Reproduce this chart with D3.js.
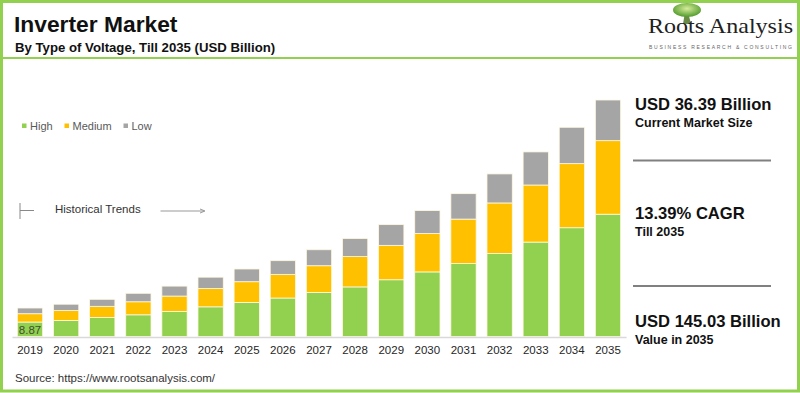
<!DOCTYPE html>
<meta charset="utf-8">
<html>
  <head>
    <title>Inverter Market</title>
    <style>
      body { margin: 0; background: #fff; }
      svg text { font-family: "Liberation Sans", Arial, sans-serif; }
    </style>
  </head>
  <body>
    <div id="chart"></div>
  </body>

<script src="https://d3js.org/d3.v7.min.js"></script>
<script>
// data (USD Billion)
var years  = ["2019","2020","2021","2022","2023","2024","2025","2026","2027","2028","2029","2030","2031","2032","2033","2034","2035"]
var high   = [8.87, 9.8, 11.7, 13.3, 15.4, 18.19, 20.9, 23.6, 27.0, 30.4, 34.8, 39.6, 44.7, 50.9, 57.9, 66.7, 75.0]
var medium = [5.1, 6.1, 6.8, 8.0, 9.4, 11.2, 12.7, 14.5, 16.4, 18.6, 21.1, 23.5, 27.3, 31.0, 35.0, 39.3, 45.1]
var low    = [3.5, 3.9, 4.3, 5.2, 6.1, 7.0, 7.8, 8.4, 9.8, 11.1, 12.7, 14.1, 15.6, 17.8, 20.3, 22.3, 24.93]
var seriesNames = ["High", "Medium", "Low"]
var firstLabel = "8.87"
var stats = [
  ["USD 36.39 Billion", "Current Market Size"],
  ["13.39% CAGR", "Till 2035"],
  ["USD 145.03 Billion", "Value in 2035"]
]

var W = 800, H = 393
var green = "#92D050"
var color = d3.scaleOrdinal().domain(seriesNames).range(["#92D050", "#FFC000", "#A5A5A5"])

var svg = d3.select("#chart").append("svg")
  .attr("width", W).attr("height", H)

// frame + title separator
svg.append("rect").attr("x", 1.5).attr("y", 1.5).attr("width", W - 3).attr("height", H - 3.5)
  .attr("fill", "#fff").attr("stroke", green).attr("stroke-width", 3)
svg.append("line").attr("x1", 0).attr("x2", W).attr("y1", 58).attr("y2", 58)
  .attr("stroke", green).attr("stroke-width", 2)

// titles
svg.append("text").attr("x", 14).attr("y", 31.5)
  .style("font-size", "22.8px").style("font-weight", "bold").attr("fill", "#111")
  .text("Inverter Market")
svg.append("text").attr("x", 15).attr("y", 52)
  .style("font-size", "13.2px").style("font-weight", "bold").attr("fill", "#111")
  .text("By Type of Voltage, Till 2035 (USD Billion)")

// logo
var logo = svg.append("g")
var grad = svg.append("defs").append("radialGradient").attr("id", "leaf")
  .attr("cx", "50%").attr("cy", "40%").attr("r", "60%")
grad.append("stop").attr("offset", "0%").attr("stop-color", "#d6ec9a")
grad.append("stop").attr("offset", "100%").attr("stop-color", "#4f9a2a")
logo.append("path").attr("d", "M685,12 L683,24 L691,24 L688,12 Z").attr("fill", "#6b8a45")
logo.append("ellipse").attr("cx", 687).attr("cy", 10).attr("rx", 14).attr("ry", 7).attr("fill", "url(#leaf)")
logo.append("text").attr("x", 648).attr("y", 33)
  .style("font-family", "'Liberation Serif', 'Times New Roman', serif").style("font-size", "22px")
  .attr("textLength", 145).attr("lengthAdjust", "spacingAndGlyphs")
  .attr("fill", "#222").text("Roots Analysis")
logo.append("text").attr("x", 649).attr("y", 49)
  .style("font-size", "5px").attr("textLength", 143).attr("lengthAdjust", "spacing")
  .attr("fill", "#666").text("BUSINESS RESEARCH & CONSULTING")

// scales
var x = d3.scaleBand().domain(years).range([11.94, 626.06]).paddingInner(0.3).paddingOuter(0.15)
var y = d3.scaleLinear().domain([0, 145.03]).range([336.5, 100])

var table = years.map(function(yr, i) {
  return { year: yr, High: high[i], Medium: medium[i], Low: low[i] }
})
var stacked = d3.stack().keys(seriesNames)(table)

svg.append("g").selectAll("g")
  .data(stacked)
  .enter().append("g")
    .attr("fill", function(d) { return color(d.key) })
  .selectAll("rect")
  .data(function(d) { return d })
  .enter().append("rect")
    .attr("x", function(d) { return x(d.data.year) })
    .attr("width", x.bandwidth())
    .attr("y", function(d) { return y(d[1]) })
    .attr("height", function(d) { return y(d[0]) - y(d[1]) })
    .attr("stroke", "#fff8e0").attr("stroke-width", 0.8)

// baseline + year labels
var xAxis = svg.append("g").attr("transform", "translate(0,337)")
  .call(d3.axisBottom(x).tickSize(0).tickPadding(9))
xAxis.select(".domain").attr("stroke", "#d9d9d9").attr("stroke-width", 1.5)
xAxis.selectAll("text").style("font-size", "11.5px").attr("fill", "#262626")
  .style("font-family", "'Liberation Sans', Arial, sans-serif")

// first value label
svg.append("text").attr("x", x(years[0]) + x.bandwidth() / 2).attr("y", 334.3)
  .attr("text-anchor", "middle").style("font-size", "11.5px").attr("fill", "#3f4f30")
  .text(firstLabel)

// legend
var leg = svg.append("g").selectAll("g").data(seriesNames).enter().append("g")
var legX = [22, 64.5, 123.5]
leg.append("rect").attr("x", function(d, i) { return legX[i] }).attr("y", 123.5)
  .attr("width", 4.5).attr("height", 4.5).attr("fill", function(d) { return color(d) })
leg.append("text").attr("x", function(d, i) { return legX[i] + 8 }).attr("y", 129.5)
  .style("font-size", "11px").attr("fill", "#595959").text(function(d) { return d })

// historical trends marker
svg.append("line").attr("x1", 20).attr("x2", 20).attr("y1", 203).attr("y2", 219).attr("stroke", "#888")
svg.append("line").attr("x1", 20).attr("x2", 34).attr("y1", 210.5).attr("y2", 210.5).attr("stroke", "#888")
svg.append("text").attr("x", 55).attr("y", 213).style("font-size", "11.5px").attr("fill", "#333")
  .text("Historical Trends")
svg.append("line").attr("x1", 160.5).attr("x2", 204).attr("y1", 211).attr("y2", 211).attr("stroke", "#999")
svg.append("path").attr("d", "M200,209 L205,211 L200,213").attr("fill", "none").attr("stroke", "#999")

// right hand stats
var statY = [110, 219, 327]
stats.forEach(function(s, i) {
  svg.append("text").attr("x", 635).attr("y", statY[i])
    .style("font-size", "16.6px").style("font-weight", "bold").attr("fill", "#111").text(s[0])
  svg.append("text").attr("x", 635).attr("y", statY[i] + 16.5)
    .style("font-size", "12.5px").style("font-weight", "bold").attr("fill", "#111").text(s[1])
})
svg.selectAll(".sep").data([160.5, 286]).enter().append("line")
  .attr("x1", 633).attr("x2", 771).attr("y1", function(d) { return d }).attr("y2", function(d) { return d })
  .attr("stroke", "#808080").attr("stroke-width", 2)

// source
svg.append("text").attr("x", 15).attr("y", 381.5).style("font-size", "11.5px").attr("fill", "#333")
  .text("Source: https://www.rootsanalysis.com/")
</script>
</html>
